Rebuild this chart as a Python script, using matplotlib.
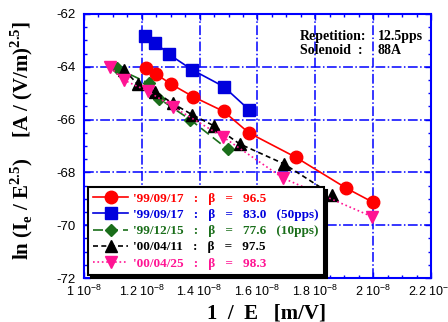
import matplotlib
matplotlib.use("Agg")
import matplotlib.pyplot as plt
import numpy as np
from matplotlib.ticker import MultipleLocator

plt.rcParams['mathtext.fontset'] = 'custom'
plt.rcParams['mathtext.rm'] = 'Liberation Sans'
plt.rcParams['mathtext.bf'] = 'Liberation Serif:bold'

# 1/E in units of 1e-8 m/V, ln(Ie/E^2.5)
red_x = [1.213, 1.250, 1.300, 1.377, 1.483, 1.570, 1.733, 1.906, 1.999]
red_y = [-64.03, -64.28, -64.65, -65.13, -65.69, -66.50, -67.43, -68.59, -69.13]
blue_x = [1.210, 1.247, 1.294, 1.375, 1.483, 1.572]
blue_y = [-62.82, -63.09, -63.53, -64.12, -64.75, -65.64]
green_x = [1.114, 1.225, 1.260, 1.367, 1.498]
green_y = [-64.06, -64.63, -65.21, -66.00, -67.13]
black_x = [1.140, 1.186, 1.247, 1.307, 1.375, 1.450, 1.538, 1.692, 1.857]
black_y = [-64.12, -64.67, -64.95, -65.39, -65.82, -66.24, -66.92, -67.68, -68.84]
pink_x = [1.091, 1.137, 1.220, 1.308, 1.480, 1.689, 1.997]
pink_y = [-64.02, -64.50, -64.92, -65.52, -66.65, -68.22, -69.68]

labels = ["'99/09/17   :   β   =   96.5",
          "'99/09/17   :   β   =   83.0   (50pps)",
          "'99/12/15   :   β   =   77.6   (10pps)",
          "'00/04/11   :   β   =   97.5",
          "'00/04/25   :   β   =   98.3"]
colors = ['#ff0000', '#0000dd', '#1a6e1a', '#000000', '#ff1493']

xticks = [1.0, 1.2, 1.4, 1.6, 1.8, 2.0, 2.2]
xticklabels = ['1 10$^{-8}$', '1.2 10$^{-8}$', '1.4 10$^{-8}$', '1.6 10$^{-8}$',
               '1.8 10$^{-8}$', '2 10$^{-8}$', '2.2 10$^{-8}$']
yticks = [-72, -70, -68, -66, -64, -62]

fig = plt.figure(figsize=(4.48, 3.22), dpi=100)
ax = fig.add_axes([0.1875, 0.1366, 0.7745, 0.82])

ax.plot(red_x, red_y, '-', color=colors[0], lw=1.2, marker='o', ms=9, mec=colors[0], label=labels[0])
ax.plot(blue_x, blue_y, '-', color=colors[1], lw=1.2, marker='s', ms=9, mec=colors[1], label=labels[1])
ax.plot(green_x, green_y, '--', dashes=(6, 3), color=colors[2], lw=1.2, marker='D', ms=6.5, mec=colors[2], label=labels[2])
ax.plot(black_x, black_y, '--', dashes=(3, 2), color=colors[3], lw=1.2, marker='^', ms=8.5, label=labels[3])
ax.plot(pink_x, pink_y, ':', color=colors[4], lw=1.2, marker='v', ms=8.5, mec=colors[4], label=labels[4])

ax.set_xlim(1.0, 2.2)
ax.set_ylim(-72, -62)
ax.set_xticks(xticks)
ax.set_xticklabels(xticklabels, fontfamily='Liberation Sans', fontsize=9)
ax.set_yticks(yticks)
ax.set_yticklabels([str(v) for v in yticks], fontfamily='Liberation Sans', fontsize=9.5)
ax.xaxis.set_minor_locator(MultipleLocator(0.05))
ax.yaxis.set_minor_locator(MultipleLocator(0.5))
ax.tick_params(which='both', direction='in', top=True, right=True, color='#0000ff')
ax.tick_params(which='major', length=4, width=1)
ax.tick_params(which='minor', length=2.5, width=1)
ax.tick_params(axis='y', pad=6)
ax.tick_params(axis='x', pad=4)
for s in ax.spines.values():
    s.set_color('#0000ff')
    s.set_linewidth(1.5)
ax.grid(True, which='major', color='#0000ff', ls='-.', lw=1.1)
ax.set_axisbelow(True)

ax.set_xlabel('1  /  E   [m/V]', fontfamily='Liberation Serif', fontweight='bold', fontsize=15)
ax.xaxis.set_label_coords(0.525, -0.095)
ax.set_ylabel('ln (I$_\\mathbf{e}$ / E$^\\mathbf{2.5}$)    [A / (V/m)$^\\mathbf{2.5}$]',
              fontfamily='Liberation Serif', fontweight='bold', fontsize=15)
ax.yaxis.set_label_coords(-0.14, 0.52)

txt = dict(transform=ax.transAxes, fontfamily='Liberation Serif', fontweight='bold',
           fontsize=10, va='top', ha='left', linespacing=1.05)
ax.text(0.623, 0.938, 'Repetition:\nSolenoid  :', **txt)
ax.text(0.847, 0.938, '12.5pps\n88A', **txt)

leg = ax.legend(loc='lower left', bbox_to_anchor=(0.012, 0.012), borderaxespad=0,
                prop={'family': 'Liberation Serif', 'weight': 'bold', 'size': 9.5},
                fancybox=False, shadow={'color': 'black', 'alpha': 1}, framealpha=1,
                handlelength=2.6, labelspacing=0.3, handletextpad=0.4, borderpad=0.4)
leg.get_frame().set_edgecolor('black')
leg.get_frame().set_linewidth(1.5)
for t, c in zip(leg.get_texts(), colors):
    t.set_color(c)

fig.savefig('out.png', dpi=100)
